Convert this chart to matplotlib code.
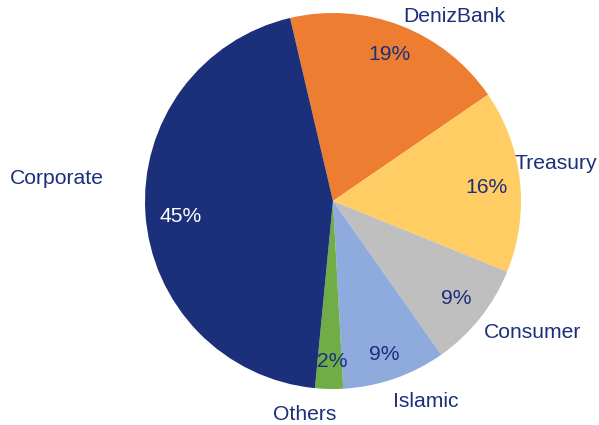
import matplotlib
matplotlib.use("Agg")
import matplotlib.pyplot as plt

categories = ["DenizBank", "Treasury", "Consumer", "Islamic", "Others", "Corporate"]
shares = [19.1, 15.7, 9.1, 8.9, 2.4, 44.8]
colors = ["#ED7D31", "#FFCD63", "#BFBFBF", "#8FAADC", "#70AD47", "#1B2F7A"]
pct_colors = ["#1B2F7A", "#1B2F7A", "#1B2F7A", "#1B2F7A", "#1B2F7A", "white"]

# label layout (axes data units, pie radius = 1)
label_pos = [(0.644, 0.979), (1.186, 0.202), (1.064, -0.697),
             (0.495, -1.064), (-0.149, -1.133), (-1.468, 0.122)]
pct_pos = [(0.303, 0.777), (0.814, 0.074), (0.654, -0.521),
           (0.271, -0.819), (-0.005, -0.856), (-0.809, -0.080)]

plt.rcParams['font.family'] = ['Liberation Sans', 'DejaVu Sans']
fig = plt.figure(figsize=(5.99, 4.25), dpi=100)
ax = fig.add_axes([145/599, 36/425, 376/599, 376/425])
wedges, texts, autotexts = ax.pie(shares, labels=categories, colors=colors,
                                  startangle=103.2, counterclock=False,
                                  autopct='%.0f%%', radius=1,
                                  textprops=dict(fontsize=15.2, color="#1B2F7A"))
for t, p in zip(texts, label_pos):
    t.set_position(p)
    t.set_ha('center'); t.set_va('center')
for t, p, c in zip(autotexts, pct_pos, pct_colors):
    t.set_position(p)
    t.set_color(c)
ax.set_xlim(-1, 1)
ax.set_ylim(-1, 1)
ax.set_aspect('auto')
ax.axis('off')
fig.savefig("out.png", dpi=100)
